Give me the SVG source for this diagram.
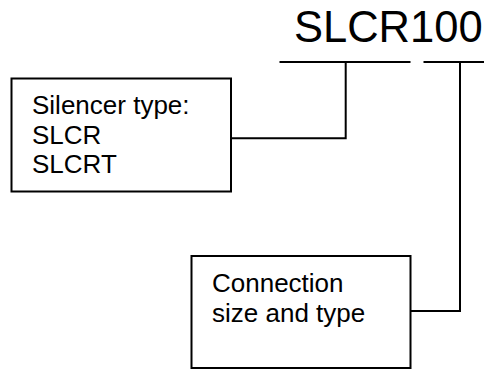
<svg xmlns="http://www.w3.org/2000/svg" width="487" height="370" viewBox="0 0 487 370">
<style>
.t{font-family:"Liberation Sans",Arial,sans-serif;fill:#000}
.box{fill:#fff;stroke:#000;stroke-width:2}
.ln{fill:none;stroke:#000;stroke-width:2}
</style>
<rect width="487" height="370" fill="#fff"/>
<g id="code">
<text class="t" x="294" y="42" font-size="43.5">SLCR100</text>
</g>
<g id="silencer-type">
<rect class="box" x="11.5" y="78.5" width="219.5" height="113"/>
<text class="t" x="32" y="113.6" font-size="26">Silencer type:</text>
<text class="t" x="32" y="143.5" font-size="26">SLCR</text>
<text class="t" x="32" y="173.3" font-size="26">SLCRT</text>
</g>
<g id="connection">
<rect class="box" x="191.5" y="256" width="219" height="112"/>
<text class="t" x="212" y="291.5" font-size="26">Connection</text>
<text class="t" x="212" y="321.5" font-size="26">size and type</text>
</g>
<g id="connectors">
<path class="ln" d="M279.5 62H410.5M423.5 62H484"/>
<path class="ln" d="M345.7 62V138.3H231"/>
<path class="ln" d="M460 62V311H410.5"/>
</g>
</svg>
